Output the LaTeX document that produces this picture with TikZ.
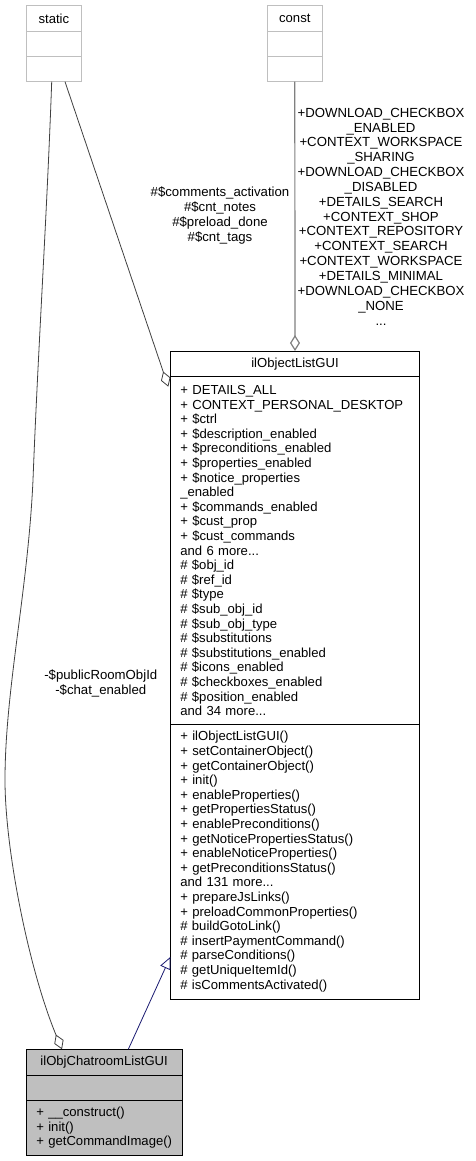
\documentclass[tikz,border=0pt]{standalone}
\usepackage{fontspec}
\setmainfont{Liberation Sans}
\definecolor{edgegray}{RGB}{64,64,64}
\definecolor{constgray}{RGB}{128,128,128}
\definecolor{boxgray}{RGB}{191,191,191}
\definecolor{navyedge}{RGB}{25,25,112}
\usepackage{tikz}
\usetikzlibrary{arrows.meta, positioning}
\hyphenpenalty=10000
\exhyphenpenalty=10000

\begin{document}
\begin{tikzpicture}[x=1pt, y=-1pt,
    every node/.style={font=\fontsize{13.1}{14.6}\selectfont},
    cls/.style={rectangle, draw=black, line width=0.8pt, inner xsep=10pt,
      inner ysep=0pt, outer sep=0pt, align=left, anchor=north},
    ghost/.style={cls, draw=boxgray, align=center},
    lbl/.style={align=center, inner sep=0pt, font=\fontsize{13.2}{14.85}\selectfont},
    aggr/.style={draw=edgegray, line width=0.8pt,
      -{Diamond[open, length=16pt, width=10pt]}},
    inh/.style={draw=navyedge, line width=0.8pt,
      -{Triangle[open, length=12pt, width=11pt]}}
  ]
    \useasboundingbox (0,0) rectangle (475,1161);

    % helper boxes
    \node[ghost, text width=35.7pt, minimum height=26pt] (stn) at (53.85,5.7) {static};
    \node[ghost, text width=35.7pt, minimum height=25pt, below=0pt of stn] (sta) {};
    \node[ghost, text width=35.7pt, minimum height=25pt, below=0pt of sta] (stm) {};
    \node[ghost, text width=35pt, minimum height=26pt] (ctn) at (294.8,5.7) {const};
    \node[ghost, text width=35pt, minimum height=25pt, below=0pt of ctn] (cta) {};
    \node[ghost, text width=35pt, minimum height=25pt, below=0pt of cta] (ctm) {};

    % base class
    \node[cls, align=center, text width=229.4pt, minimum height=25.7pt] (oln) at (295,351) {ilObjectListGUI};
    \node[cls, text width=229.4pt, minimum height=347.6pt, below=0pt of oln] (ola) {%
      + DETAILS\_ALL\\
      + CONTEXT\_PERSONAL\_DESKTOP\\
      + \$ctrl\\
      + \$description\_enabled\\
      + \$preconditions\_enabled\\
      + \$properties\_enabled\\
      + \$notice\_properties\\
      \_enabled\\
      + \$commands\_enabled\\
      + \$cust\_prop\\
      + \$cust\_commands\\
      and 6 more...\\
      \# \$obj\_id\\
      \# \$ref\_id\\
      \# \$type\\
      \# \$sub\_obj\_id\\
      \# \$sub\_obj\_type\\
      \# \$substitutions\\
      \# \$substitutions\_enabled\\
      \# \$icons\_enabled\\
      \# \$checkboxes\_enabled\\
      \# \$position\_enabled\\
      and 34 more...};
    \node[cls, text width=229.4pt, minimum height=274.7pt, below=0pt of ola] (olm) {%
      + ilObjectListGUI()\\
      + setContainerObject()\\
      + getContainerObject()\\
      + init()\\
      + enableProperties()\\
      + getPropertiesStatus()\\
      + enablePreconditions()\\
      + getNoticePropertiesStatus()\\
      + enableNoticeProperties()\\
      + getPreconditionsStatus()\\
      and 131 more...\\
      + prepareJsLinks()\\
      + preloadCommonProperties()\\
      \# buildGotoLink()\\
      \# insertPaymentCommand()\\
      \# parseConditions()\\
      \# getUniqueItemId()\\
      \# isCommentsActivated()};

    % derived class
    \node[cls, fill=boxgray, align=center, text width=135.7pt, minimum height=26pt] (chn) at (104.15,1049.3) {ilObjChatroomListGUI};
    \node[cls, fill=boxgray, text width=135.7pt, minimum height=25.4pt, below=0pt of chn] (cha) {};
    \node[cls, fill=boxgray, text width=135.7pt, minimum height=54.3pt, below=0pt of cha] (chm) {%
      +~\_\_construct()\\
      +~init()\\
      +~getCommandImage()};

    % edges
    \draw[aggr] ([xshift=-2.15pt]stm.south) .. controls (47,215) and (38,350) .. (33,480)
      .. controls (28,590) and (5,690) .. (5,780)
      .. controls (5,850) and (29,970) .. ([xshift=-42.15pt]chn.north);
    \draw[aggr] ([xshift=11.15pt]stm.south) -- ([xshift=-2pt, yshift=-10pt]ola.north west);
    \draw[aggr, draw=constgray, line width=1.2pt] (ctm.south) -- (oln.north);
    \draw[inh] ([xshift=24.15pt]chn.north) -- ([yshift=42pt]olm.south west);

    % edge labels
    \node[lbl] (lblst) at (220,215.5) {\#\$comments\_activation\\\#\$cnt\_notes\\\#\$preload\_done\\\#\$cnt\_tags};
    \node[lbl] (lblct) at (381,216.5) {+DOWNLOAD\_CHECKBOX\\\_ENABLED\\+CONTEXT\_WORKSPACE\\\_SHARING\\+DOWNLOAD\_CHECKBOX\\\_DISABLED\\+DETAILS\_SEARCH\\+CONTEXT\_SHOP\\+CONTEXT\_REPOSITORY\\+CONTEXT\_SEARCH\\+CONTEXT\_WORKSPACE\\+DETAILS\_MINIMAL\\+DOWNLOAD\_CHECKBOX\\\_NONE\\...};
    \node[lbl] (lblch) at (100.8,683) {-\$publicRoomObjId\\-\$chat\_enabled};
  \end{tikzpicture}
\end{document}
